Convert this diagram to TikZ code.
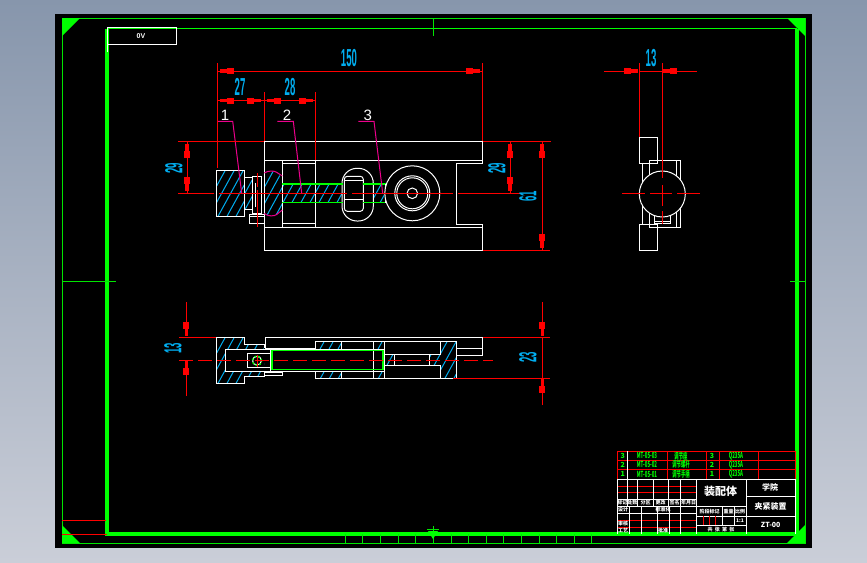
\documentclass[tikz,border=0pt]{standalone}
\usepackage{graphicx}
\usepackage{fontspec}
\setmainfont{Liberation Sans}
\newfontfamily\cjk{Noto Sans CJK SC}
\usetikzlibrary{arrows.meta, positioning, calc}
\newcommand{\dimtext}[1]{\scalebox{0.8}[2.05]{\bfseries #1}}
\newcommand{\rowtext}[1]{\scalebox{0.62}[1.2]{#1}}
\newcommand{\hatchfill}[4]{%
  \pgfmathsetmacro{\hstart}{#1-(#4-#3)*0.55}
  \pgfmathsetmacro{\hnext}{\hstart+9}
  \foreach \hx in {\hstart,\hnext,...,#2}
    \draw[hatchline] (\hx,#4) -- ({\hx+(#4-#3)*0.55},#3);
}
\begin{document}
\begin{tikzpicture}[
    x=1pt, y=-1pt,
    part/.style={draw=white, line width=1pt},
    frame/.style={draw=green!90!black, line width=1pt},
    hatchline/.style={draw=cyan, line width=1pt},
    centre/.style={draw=red, line width=1pt},
    leader/.style={draw=magenta, line width=1pt},
    screw/.style={draw=green, line width=1.4pt},
    dimtip/.tip={Rectangle[length=7pt,width=6pt,sep=-1pt]Rectangle[length=8pt,width=3.5pt]},
    dimline/.style={draw=red, line width=1pt, dimtip-dimtip, shorten <=2pt, shorten >=2pt},
    leftline/.style={draw=red, line width=1pt, -dimtip},
    extline/.style={draw=red, line width=1pt},
    dimlabel/.style={text=cyan, font=\large, inner sep=0pt},
    partno/.style={text=white, font=\fontsize{15}{15}\selectfont, inner sep=0pt},
    tablerow/.style={text=green, font=\cjk\fontsize{7}{7}\selectfont\bfseries, inner sep=0pt},
    blocktext/.style={text=white, font=\cjk\fontsize{5}{5}\selectfont\bfseries, inner sep=0pt},
    tred/.style={draw=red, line width=1pt},
    twhite/.style={draw=white, line width=1pt}
]
    % Background and sheet
    \shade[top color={rgb,255:red,135;green,150;blue,172}, bottom color={rgb,255:red,202;green,206;blue,216}] (0,0) rectangle (867,562);
    \fill[black] (55,14) rectangle (812,548);
    \useasboundingbox (0,0) rectangle (867,562);

    % Sheet frame
    \draw[frame] (62,18) rectangle (805,543);
    \draw[draw=green, line width=3.2pt] (107,28.5) -- (107,534) -- (797,534) -- (797,28.5);
    \draw[draw=green, line width=1.4pt] (107,28.5) -- (797,28.5);
    \fill[green] (62,18) -- (80,18) -- (62,36) -- cycle;
    \fill[green] (805,18) -- (787,18) -- (805,36) -- cycle;
    \fill[green] (62,543) -- (80,543) -- (62,525) -- cycle;
    \fill[green] (805,543) -- (787,543) -- (805,525) -- cycle;
    \draw[frame] (433,18) -- (433,36);
    \draw[frame] (62,281) -- (116,281);
    \draw[frame] (790,281) -- (805,281);
    \foreach \tx in {345,362.5,380.5,398,415.5,433,451,468.5,486,503.5,521,539,556.5,574,591.5}
        \draw[frame] (\tx,534) -- (\tx,543);
    \draw[frame] (427,529) -- (439,529);
    \draw[frame] (433,526) -- (433,534);
    \fill[green] (428,531) -- (438,531) -- (433,539) -- cycle;
    \draw[tred] (62,520) -- (106,520);
    \draw[tred] (62,534) -- (107,534);
    \draw[part] (107,52) -- (107,27) -- (176.5,27) -- (176.5,44.3) -- (107,44.3);
    \node[text=white, font=\fontsize{7}{7}\selectfont\bfseries] (sheetcode) at (141,36) {0V};

    % Front view, hatched parts
    \begin{scope}
        \clip (216.3,170.3) rectangle (244.7,216.7);
        \hatchfill{216.3}{244.7}{170.3}{216.7}
    \end{scope}
    \begin{scope}
        \clip (244.7,177.3) rectangle (252.7,209.3);
        \hatchfill{244.7}{252.7}{177.3}{209.3}
    \end{scope}
    \begin{scope}
        \clip (264.3,172) -- (272,171) -- (282.3,177) -- (282.3,184) -- (343.3,184) -- (343.3,202.7) -- (282.3,202.7) -- (282.3,210) -- (272,217) -- (264.3,213) -- cycle;
        \hatchfill{264.3}{343.3}{171}{217}
    \end{scope}
    \begin{scope}
        \clip (363.3,184) rectangle (384,202.7);
        \hatchfill{363.3}{384}{184}{202.7}
    \end{scope}

    % Front view, outlines
    \draw[part] (264.3,141.3) rectangle (482.7,250.5);
    \fill[black] (480,164.2) rectangle (485,223.8);
    \draw[part] (264.3,160.3) -- (482.7,160.3);
    \draw[part] (264.3,227.3) -- (482.7,227.3);
    \fill[black] (457,161) rectangle (484,226.7);
    \draw[part] (482.7,160.3) -- (482.7,163.7) -- (456.3,163.7) -- (456.3,224.3) -- (482.7,224.3) -- (482.7,227.3);
    \draw[part] (282.3,160.3) -- (282.3,227.3);
    \draw[part] (315.7,160.3) -- (315.7,227.3);
    \draw[part] (282.3,163.7) -- (315.7,163.7);
    \draw[part] (282.3,223.7) -- (315.7,223.7);
    \draw[part] (216.3,170.3) rectangle (244.7,216.7);
    \draw[part] (244.7,177.3) rectangle (252.7,209.3);
    \draw[part] (252.7,176.7) rectangle (261.7,213);
    \draw[part] (255,183) -- (255,207);
    \draw[part] (249.3,214.3) rectangle (264.3,223.3);
    \draw[part] (249.3,216.7) -- (264.3,216.7);
    \draw[leader] (264.3,173) .. controls (268,170.5) and (274,170.5) .. (276.7,172.3) -- (282.3,176);
    \draw[leader] (264.3,213.5) .. controls (268,216.5) and (274,216.5) .. (276.7,214.5) -- (282.3,210);
    \draw[part] (342,185) -- (342,205);
    \draw[part, fill=black, rounded corners=15pt] (342,168.3) rectangle (373.3,221);
    \draw[part, fill=black, rounded corners=3pt] (344.3,176.3) rectangle (363.3,211.3);
    \draw[part] (345,180.7) -- (363,180.7);
    \draw[part] (345,199.3) -- (363,199.3);
    \draw[screw] (282.3,184) -- (343.3,184);
    \draw[screw] (282.3,202.7) -- (343.3,202.7);
    \draw[screw] (363.3,184) -- (386,184);
    \draw[screw] (363.3,202.7) -- (386,202.7);
    \draw[part] (385,184) -- (385,202.7);
    \draw[part, fill=black] (412.3,193.3) circle[radius=27.5pt];
    \draw[part] (412.3,193.3) circle[radius=17.5pt];
    \draw[part] (412.3,193.3) circle[radius=15.5pt];
    \draw[part] (412.3,193.3) circle[radius=5.3pt];

    % Front view, centre lines and leaders
    \draw[centre] (219,193.5) -- (346.7,193.5);
    \draw[centre] (352.3,193.5) -- (453,193.5);
    \draw[centre] (257.3,173.3) -- (257.3,186.7);
    \draw[centre] (257.3,190) -- (257.3,226.7);
    \draw[leader] (217,121.3) -- (232.7,121.3) -- (241.7,193.3);
    \draw[leader] (277.3,121.3) -- (293.3,121.3) -- (301.7,193.3);
    \draw[leader] (358.3,121.3) -- (374,121.3) -- (382.7,193.3);
    \node[partno] (noa) at (225,115) {1};
    \node[partno] (nob) at (287,115) {2};
    \node[partno] (noc) at (367.7,115) {3};

    % Front view, dimensions
    \draw[extline] (217,63) -- (217,168);
    \draw[extline] (482.7,63) -- (482.7,141);
    \draw[extline] (264.3,92) -- (264.3,141);
    \draw[extline] (315.5,92) -- (315.5,160);
    \draw[extline] (217,71) -- (482.7,71);
    \draw[extline] (217,100.7) -- (315.5,100.7);
    \draw[dimline] (218,71) -- (481.7,71);
    \draw[dimline] (218,100.7) -- (263.3,100.7);
    \draw[dimline] (265.3,100.7) -- (314.5,100.7);
    \node[dimlabel] (len) at (349,58) {\dimtext{150}};
    \node[dimlabel] (lena) at (240,87) {\dimtext{27}};
    \node[dimlabel] (lenb) at (290,87) {\dimtext{28}};
    \draw[extline] (178,141.3) -- (264.3,141.3);
    \draw[extline] (178,193.5) -- (214,193.5);
    \draw[extline] (482.7,141.3) -- (551,141.3);
    \draw[extline] (458,193.5) -- (520,193.5);
    \draw[extline] (482.7,250.5) -- (550,250.5);
    \draw[extline] (187,141.3) -- (187,193.5);
    \draw[extline] (510,141.3) -- (510,193.5);
    \draw[extline] (542,141.3) -- (542,250.5);
    \draw[dimline] (187,142.3) -- (187,192.5);
    \draw[dimline] (510,142.3) -- (510,192.5);
    \draw[dimline] (542,142.3) -- (542,249.5);
    \node[dimlabel, rotate=90] (hgta) at (174,168) {\dimtext{29}};
    \node[dimlabel, rotate=90] (hgtb) at (497,168) {\dimtext{29}};
    \node[dimlabel, rotate=90] (hgtc) at (528,196) {\dimtext{61}};

    % Plan view, hatched parts
    \begin{scope}[even odd rule]
        \clip (216.3,337.3) -- (244.7,337.3) -- (244.7,344.3) -- (264.3,344.3) -- (264.3,376.7) -- (244.7,376.7) -- (244.7,383.7) -- (216.3,383.7) -- cycle (225.3,349.3) rectangle (264.3,371.3);
        \hatchfill{216.3}{264.3}{337.3}{383.7}
    \end{scope}
    \begin{scope}
        \clip (315.3,341.3) rectangle (341.3,349);
        \hatchfill{315.3}{341.3}{341.3}{349}
    \end{scope}
    \begin{scope}
        \clip (373.3,341.3) rectangle (384,349);
        \hatchfill{373.3}{384}{341.3}{349}
    \end{scope}
    \begin{scope}
        \clip (315.3,371.3) rectangle (341.3,378.3);
        \hatchfill{315.3}{341.3}{371.3}{378.3}
    \end{scope}
    \begin{scope}
        \clip (373.3,371.3) rectangle (384,378.3);
        \hatchfill{373.3}{384}{371.3}{378.3}
    \end{scope}
    \begin{scope}
        \clip (384,354.3) rectangle (394.3,365);
        \hatchfill{384}{394.3}{354.3}{365}
    \end{scope}
    \begin{scope}
        \clip (440,341.3) -- (456.3,341.3) -- (456.3,378.3) -- (440,378.3) -- (440,365) -- (429.3,365) -- (429.3,354.3) -- (440,354.3) -- cycle;
        \hatchfill{429.3}{456.3}{341.3}{378.3}
    \end{scope}

    % Plan view, outlines
    \draw[part] (264.3,348) -- (264.3,344.3) -- (244.7,344.3) -- (244.7,337.3) -- (216.3,337.3) -- (216.3,383.7) -- (244.7,383.7) -- (244.7,376.7) -- (264.3,376.7) -- (264.3,372);
    \draw[part] (270.7,349.3) -- (225.3,349.3) -- (225.3,371.3) -- (270.7,371.3);
    \draw[part] (247.3,353.3) rectangle (270.7,367.7);
    \draw[part] (265,348.3) -- (265,337.3) -- (482.7,337.3) -- (482.7,355.7) -- (456.3,355.7);
    \draw[part] (265,348.3) -- (315.3,348.3);
    \draw[part] (456.3,348.3) -- (482.7,348.3);
    \draw[part] (315.3,341.3) -- (456.3,341.3) -- (456.3,378.3) -- (315.3,378.3) -- (315.3,371.3);
    \draw[part] (315.3,341.3) -- (315.3,349.3);
    \draw[part] (341.3,341.3) -- (341.3,349.3);
    \draw[part] (341.3,371.3) -- (341.3,378.3);
    \draw[part] (270.7,349.3) -- (384,349.3);
    \draw[part] (270.7,371.3) -- (384,371.3);
    \draw[part] (270.7,349.3) -- (270.7,371.3);
    \draw[part] (373.3,341.3) -- (373.3,378.3);
    \draw[part] (384,341.3) -- (384,378.3);
    \draw[part] (384,354.3) -- (440,354.3) -- (440,341.3);
    \draw[part] (384,365) -- (440,365) -- (440,378.3);
    \draw[part] (394.3,354.3) -- (394.3,365);
    \draw[part] (429.3,354.3) -- (429.3,365);
    \draw[part] (264.3,372.3) rectangle (282.7,375);
    \draw[screw] (272,350.7) rectangle (383,369.7);
    \draw[part] (257,360.7) circle[radius=4.4pt];
    \draw[screw, dash pattern=on 2pt off 2pt] (257,360.7) circle[radius=4.7pt];

    % Plan view, centre line and dimensions
    \draw[centre, dash pattern=on 14pt off 5pt] (179,360.3) -- (493,360.3);
    \draw[centre] (257,355) -- (257,367);
    \draw[extline] (179,337.3) -- (216.3,337.3);
    \draw[extline] (482.7,337.3) -- (550,337.3);
    \draw[extline] (453,378.3) -- (550,378.3);
    \draw[leftline] (186.3,302) -- (186.3,336.3);
    \draw[leftline] (186.3,395.7) -- (186.3,361.3);
    \draw[leftline] (542.3,302) -- (542.3,336.3);
    \draw[leftline] (542.3,405) -- (542.3,379.3);
    \draw[extline] (542.3,337.3) -- (542.3,378.3);
    \node[dimlabel, rotate=90] (wida) at (173,348) {\dimtext{13}};
    \node[dimlabel, rotate=90] (widb) at (528,357) {\dimtext{23}};

    % Side view
    \draw[part] (639.3,137.3) rectangle (657.7,163.3);
    \draw[part] (639.3,224.3) rectangle (657.7,250.3);
    \draw[part] (649.3,160.3) rectangle (680.7,227.3);
    \draw[part] (676.3,160.3) -- (676.3,227.3);
    \draw[part] (642.3,163.3) -- (642.3,224.3);
    \draw[part, fill=black] (662.3,194) circle[radius=23pt];
    \draw[part] (654.3,216) -- (654.3,223.3) -- (670.7,223.3) -- (670.7,216);
    \draw[part] (655,221.5) -- (669.5,221.5);
    \draw[centre] (622,193.3) -- (645,193.3);
    \draw[centre] (650,193.3) -- (671.7,193.3);
    \draw[centre] (677,193.3) -- (700,193.3);
    \draw[centre] (662.3,185) -- (662.3,206);
    \draw[centre] (662.3,211) -- (662.3,224.3);
    \draw[extline] (639.3,63) -- (639.3,137.3);
    \draw[extline] (662.3,63) -- (662.3,178);
    \draw[leftline] (604,71) -- (638.3,71);
    \draw[leftline] (696.7,71) -- (663.3,71);
    \draw[extline] (639.3,71) -- (662.3,71);
    \node[dimlabel] (sidew) at (651,58) {\dimtext{13}};

    % Parts table
    \foreach \ry in {451.3,460.3,469.3}
        \draw[tred] (617.3,\ry) -- (795,\ry);
    \foreach \rx in {617.3,667.3,706.7,719.3,758.3}
        \draw[tred] (\rx,451.3) -- (\rx,478.7);
    \draw[tred] (795,451.3) -- (795,479.3);
    \draw[twhite] (627.3,451.3) -- (627.3,478.7);
    \foreach \rowy/\rowno/\rowcode/\rowname/\rowmat [count=\ri] in {455.8/3/MT-05-03/调节座/Q235A,464.8/2/MT-05-02/调节螺杆/Q235A,474/1/MT-05-01/调节手柄/Q235A} {
        \node[tablerow] (noa\ri) at (622.7,\rowy) {\rowno};
        \node[tablerow] (code\ri) at (647,\rowy) {\rowtext{\rowcode}};
        \node[tablerow] (name\ri) at (681,\rowy) {\rowtext{\rowname}};
        \node[tablerow] (qty\ri) at (712,\rowy) {\rowno};
        \node[tablerow] (mat\ri) at (736,\rowy) {\rowtext{\rowmat}};
    }

    % Title block
    \draw[twhite] (617.3,479.3) -- (795,479.3) -- (795,534);
    \foreach \ry in {486.3,492}
        \draw[tred] (617.3,\ry) -- (696.3,\ry);
    \foreach \ry in {520.3,527.3}
        \draw[tred] (617.3,\ry) -- (696.3,\ry);
    \foreach \ry in {499.3,506.3,513.3}
        \draw[twhite] (617.3,\ry) -- (696.3,\ry);
    \foreach \rx in {627.3,637.3,653.3,668.3}
        \draw[twhite] (\rx,479.3) -- (\rx,506.3);
    \foreach \rx in {629.3,641.3,657.3,669}
        \draw[twhite] (\rx,506.3) -- (\rx,534);
    \foreach \rx in {617.3,680.3,696.3}
        \draw[twhite] (\rx,479.3) -- (\rx,534);
    \draw[twhite] (746.3,479.3) -- (746.3,534);
    \draw[twhite] (696.3,506.3) -- (746.3,506.3);
    \draw[twhite] (746.3,496.7) -- (795,496.7);
    \draw[twhite] (696.3,516.3) -- (795,516.3);
    \draw[twhite] (696.3,525.3) -- (746.3,525.3);
    \draw[twhite] (722.7,506.3) -- (722.7,525.3);
    \draw[twhite] (734.3,506.3) -- (734.3,525.3);
    \foreach \rx in {703.3,709.3,715.7}
        \draw[tred] (\rx,516.3) -- (\rx,525.3);
    \node[blocktext] (mark) at (622.3,503) {标记};
    \node[blocktext] (count) at (632.3,503) {处数};
    \node[blocktext] (zone) at (645.5,503) {分区};
    \node[blocktext] (change) at (660.5,503) {更改};
    \node[blocktext] (sign) at (674.5,503) {签名};
    \node[blocktext] (date) at (688.5,503) {年月日};
    \node[blocktext] (design) at (623,510) {设计};
    \node[blocktext] (standard) at (663,510) {标准化};
    \node[blocktext] (check) at (623,523.7) {审核};
    \node[blocktext] (craft) at (623,531) {工艺};
    \node[blocktext] (approve) at (663,531) {批准};
    \node[blocktext] (stage) at (709.5,511.7) {阶段标记};
    \node[blocktext] (weight) at (728.5,511.7) {重量};
    \node[blocktext] (ratio) at (740,511.7) {比例};
    \node[blocktext] (scale) at (740,521) {1:1};
    \node[blocktext] (sheets) at (721,530) {共\ \ 张\ \ 第\ \ 张};
    \node[blocktext, font=\cjk\fontsize{11}{11}\selectfont\bfseries] (title) at (720.7,491.7) {装配体};
    \node[blocktext, font=\cjk\fontsize{8}{8}\selectfont\bfseries] (school) at (770,487.5) {学院};
    \node[blocktext, font=\cjk\fontsize{8}{8}\selectfont\bfseries] (device) at (770.7,506.5) {夹紧装置};
    \node[blocktext, font=\cjk\fontsize{7}{7}\selectfont\bfseries] (drawno) at (770.7,525) {ZT-00};
\end{tikzpicture}
\end{document}
